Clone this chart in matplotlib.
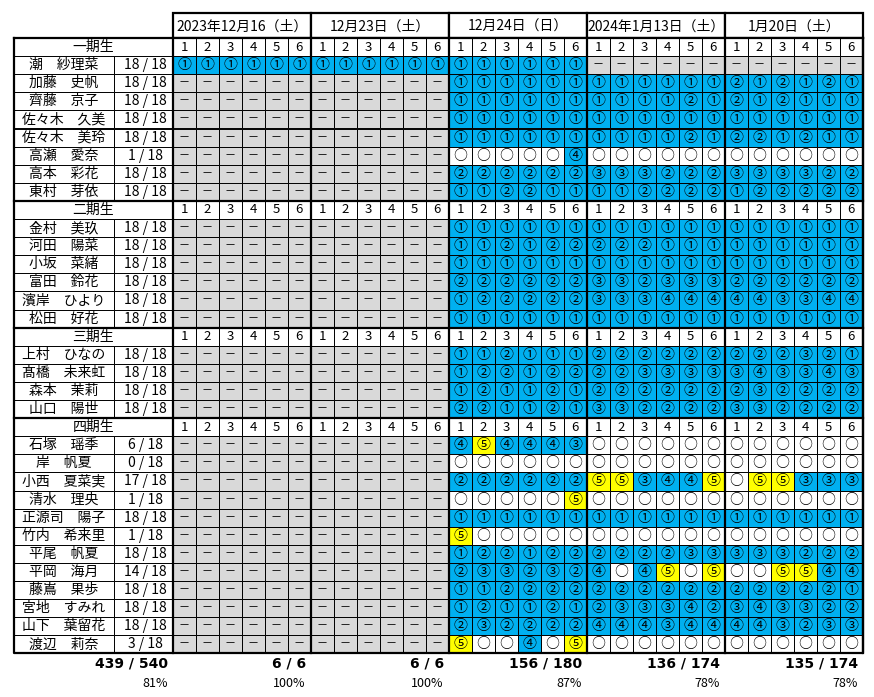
import numpy as np
import matplotlib.pyplot as plt
from matplotlib.patches import Rectangle

plt.rcParams['font.family'] = ['Noto Sans CJK JP', 'DejaVu Sans']

dates = ["2023年12月16（土）", "12月23日（土）", "12月24日（日）", "2024年1月13日（土）", "1月20日（土）"]
sections = ["一期生", "二期生", "三期生", "四期生"]

# marks: 1-5 = circled number, o = attended nothing, - = not held for member
gen1_names = ["潮　紗理菜", "加藤　史帆", "齊藤　京子", "佐々木　久美", "佐々木　美玲",
              "高瀬　愛奈", "高本　彩花", "東村　芽依"]
gen1_marks = ["111111 111111 111111 ------ ------",
              "------ ------ 111111 111111 212121",
              "------ ------ 111111 111121 212111",
              "------ ------ 111111 111111 111111",
              "------ ------ 111111 111121 221211",
              "------ ------ ooooo4 oooooo oooooo",
              "------ ------ 222222 333222 333322",
              "------ ------ 112211 112222 122222"]

gen2_names = ["金村　美玖", "河田　陽菜", "小坂　菜緒", "富田　鈴花", "濱岸　ひより", "松田　好花"]
gen2_marks = ["------ ------ 111111 111111 111111",
              "------ ------ 112122 222111 111111",
              "------ ------ 111111 111111 111111",
              "------ ------ 222222 332333 222222",
              "------ ------ 122222 333444 443344",
              "------ ------ 111111 111111 111111"]

gen3_names = ["上村　ひなの", "髙橋　未来虹", "森本　茉莉", "山口　陽世"]
gen3_marks = ["------ ------ 112111 222222 222321",
              "------ ------ 122122 223333 343343",
              "------ ------ 121121 222222 232222",
              "------ ------ 221121 332222 332222"]

gen4_names = ["石塚　瑶季", "岸　帆夏", "小西　夏菜実", "清水　理央", "正源司　陽子", "竹内　希来里",
              "平尾　帆夏", "平岡　海月", "藤嶌　果歩", "宮地　すみれ", "山下　葉留花", "渡辺　莉奈"]
gen4_marks = ["------ ------ 454443 oooooo oooooo",
              "------ ------ oooooo oooooo oooooo",
              "------ ------ 222222 553445 o55333",
              "------ ------ ooooo5 oooooo oooooo",
              "------ ------ 111111 111111 111111",
              "------ ------ 5ooooo oooooo oooooo",
              "------ ------ 122122 222233 333222",
              "------ ------ 233232 4o45o5 oo5544",
              "------ ------ 112222 222222 222221",
              "------ ------ 121121 233342 343322",
              "------ ------ 232222 444344 443233",
              "------ ------ 5oo4o5 oooooo oooooo"]

groups = [(gen1_names, gen1_marks), (gen2_names, gen2_marks),
          (gen3_names, gen3_marks), (gen4_names, gen4_marks)]

BLUE = "#00B0F0"
YELLOW = "#FFFF00"
GREY = "#D9D9D9"
fill = {"1": BLUE, "2": BLUE, "3": BLUE, "4": BLUE, "5": YELLOW, "o": "white", "-": GREY}
glyph = {"1": "①", "2": "②", "3": "③", "4": "④", "5": "⑤", "o": "○", "-": "－"}

# layout (pixels)
LEFT, COUNT_X, GRID_X = 13.5, 114, 172.7
CELL_W, TOP, DATE_H, ROW_H = 23, 13, 25, 18.1
N_DATES, PER = 5, 6
RIGHT = GRID_X + N_DATES * PER * CELL_W
THIN, THICK = 0.7, 1.6

fig = plt.figure(figsize=(8.74, 6.97), dpi=100)
ax = fig.add_axes([0, 0, 1, 1])
ax.set_xlim(0, 874)
ax.set_ylim(697, 0)
ax.axis('off')

# date header
for d, label in enumerate(dates):
    x = GRID_X + d * PER * CELL_W
    ax.add_patch(Rectangle((x, TOP), PER * CELL_W, DATE_H, fc="white", ec="black", lw=THICK))
    ax.text(x + PER * CELL_W / 2, TOP + DATE_H / 2 + 1, label, ha="center", va="center", fontsize=10)

y = TOP + DATE_H
sec_tops = []
held = np.zeros(N_DATES, dtype=int)
attended = np.zeros(N_DATES, dtype=int)
for sec, (names, marks) in zip(sections, groups):
    sec_tops.append(y)
    ax.add_patch(Rectangle((LEFT, y), GRID_X - LEFT, ROW_H, fc="white", ec="black", lw=THIN))
    ax.text((LEFT + GRID_X) / 2, y + ROW_H / 2, sec, ha="center", va="center", fontsize=10)
    for c in range(N_DATES * PER):
        ax.add_patch(Rectangle((GRID_X + c * CELL_W, y), CELL_W, ROW_H, fc="white", ec="black", lw=THIN))
        ax.text(GRID_X + (c + 0.5) * CELL_W, y + ROW_H / 2, str(c % PER + 1),
                ha="center", va="center", fontsize=9.5)
    y += ROW_H
    for name, m in zip(names, marks):
        cells = "".join(m.split())
        n_held = sum(ch != "-" for ch in cells)
        n_att = sum(ch not in "-o" for ch in cells)
        for d in range(N_DATES):
            part = cells[d * PER:(d + 1) * PER]
            if "-" not in part:
                held[d] += PER
                attended[d] += sum(ch != "o" for ch in part)
        ax.add_patch(Rectangle((LEFT, y), COUNT_X - LEFT, ROW_H, fc="white", ec="black", lw=THIN))
        ax.add_patch(Rectangle((COUNT_X, y), GRID_X - COUNT_X, ROW_H, fc="white", ec="black", lw=THIN))
        ax.text((LEFT + COUNT_X) / 2, y + ROW_H / 2, name, ha="center", va="center", fontsize=10)
        ax.text((COUNT_X + GRID_X) / 2 + 2, y + ROW_H / 2, f"{n_att} / {n_held}",
                ha="center", va="center", fontsize=10)
        for c, ch in enumerate(cells):
            ax.add_patch(Rectangle((GRID_X + c * CELL_W, y), CELL_W, ROW_H, fc=fill[ch], ec="black", lw=THIN))
            ax.text(GRID_X + (c + 0.5) * CELL_W, y + ROW_H / 2, glyph[ch],
                    ha="center", va="center", fontsize=8 if ch == "-" else 10)
        y += ROW_H
bottom = y

# thick borders
for st in sec_tops:
    ax.plot([LEFT, RIGHT], [st, st], color="black", lw=THICK)
for d in range(N_DATES + 1):
    x = GRID_X + d * PER * CELL_W
    ax.plot([x, x], [TOP + DATE_H, bottom], color="black", lw=THICK)
ax.plot([LEFT, LEFT, RIGHT, RIGHT], [sec_tops[0], bottom, bottom, sec_tops[0]], color="black", lw=THICK)

# totals
tot_att = attended.sum()
tot_held = held.sum()
ax.text(GRID_X - 5, bottom + 10, f"{tot_att} / {tot_held}", ha="right", va="center",
        fontsize=10, fontweight="bold", family="DejaVu Sans")
ax.text(GRID_X - 5, bottom + 30, f"{round(100 * tot_att / tot_held)}%", ha="right", va="center", fontsize=9)
for d in range(N_DATES):
    x = GRID_X + (d + 1) * PER * CELL_W - 5
    ax.text(x, bottom + 10, f"{attended[d]} / {held[d]}", ha="right", va="center",
            fontsize=10, fontweight="bold", family="DejaVu Sans")
    ax.text(x, bottom + 30, f"{round(100 * attended[d] / held[d])}%", ha="right", va="center", fontsize=9)

fig.savefig("out.png", dpi=100)
